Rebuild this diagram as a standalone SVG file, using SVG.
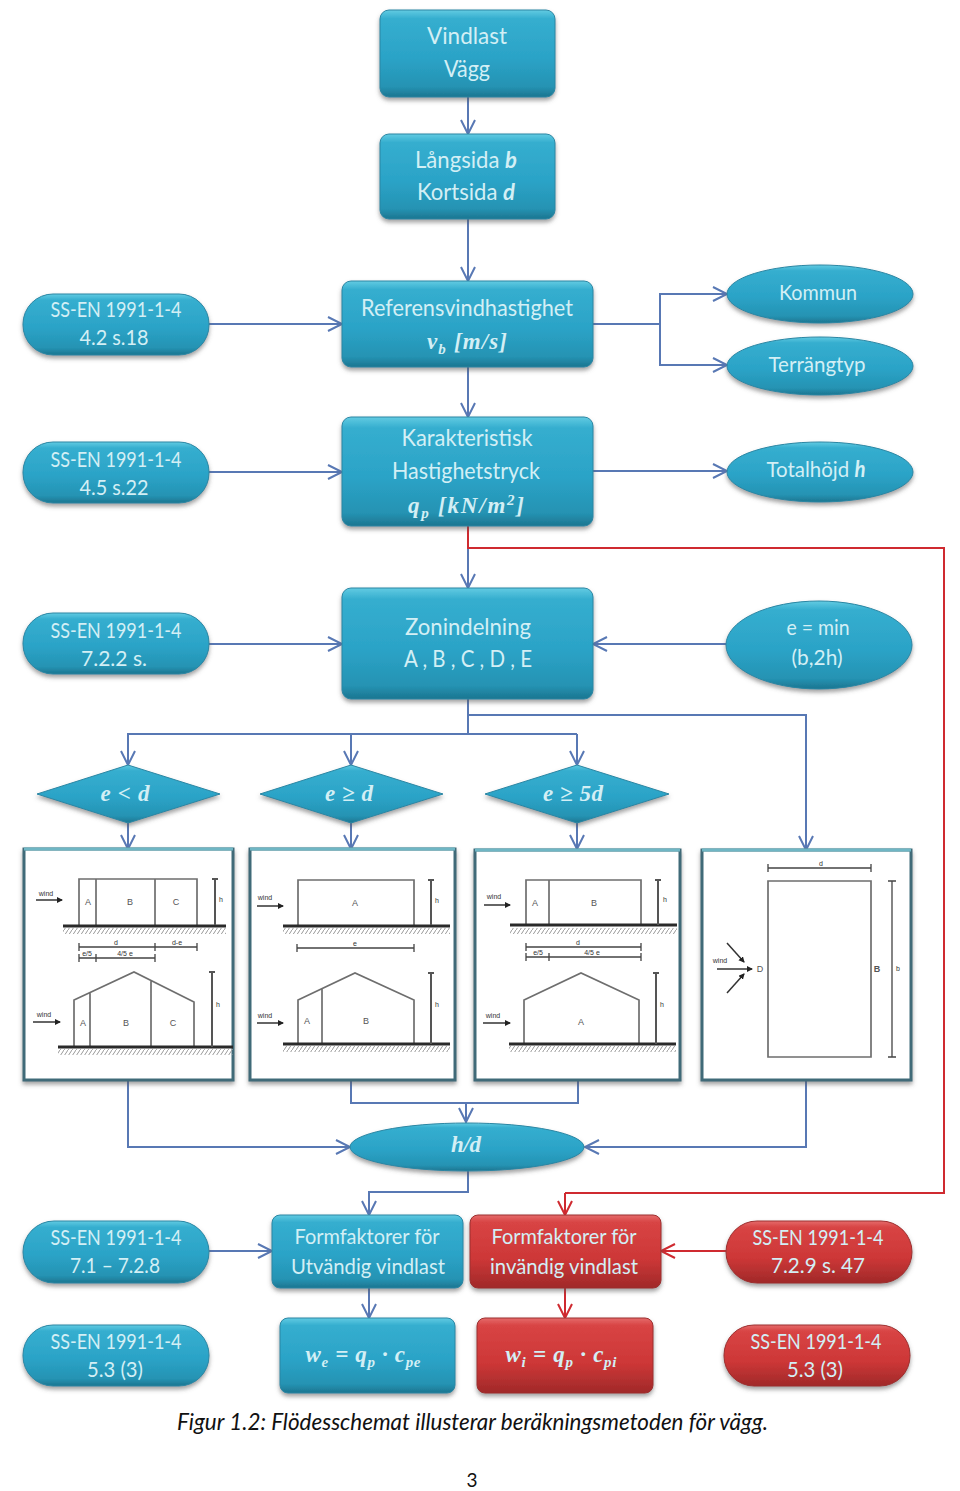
<svg xmlns="http://www.w3.org/2000/svg" width="960" height="1491" viewBox="0 0 960 1491">
<style>
.b{fill:url(#blue);stroke:#2a86a3;stroke-width:1;filter:url(#sh)}
.r{fill:url(#red);stroke:#9c2f2f;stroke-width:1;filter:url(#sh)}
.t{font-family:Lato,"Open Sans",sans-serif;font-size:23px;fill:#d3eff5;text-anchor:middle}
.s{font-size:22px}
.i{font-style:italic;font-weight:700}
.m{font-family:"Liberation Serif",serif;font-style:italic;font-weight:700;font-size:23px;fill:#d3eff5;text-anchor:middle}
.c{fill:none;stroke:#5878b4;stroke-width:2;marker-end:url(#ab)}
.n{fill:none;stroke:#5878b4;stroke-width:2}
.cr{fill:none;stroke:#cf2a30;stroke-width:2;marker-end:url(#ar)}
.nr{fill:none;stroke:#cf2a30;stroke-width:2}
.f{fill:#fff;stroke:#3f6b78;stroke-width:3;filter:url(#sh)}
.ft{fill:none;stroke:#6fb6c4;stroke-width:3}
.l{fill:none;stroke:#6e6e6e;stroke-width:1.7}
.d{fill:none;stroke:#444;stroke-width:1.3}
.g{stroke:#2a2a2a;stroke-width:3;fill:none}
.v{stroke:#555;stroke-width:2;fill:none}
.a{stroke:#333;stroke-width:1.5;fill:none;marker-end:url(#wa)}
.x{font-family:"Liberation Sans",sans-serif;font-size:9px;fill:#555;text-anchor:middle}
.w{font-family:"Liberation Sans",sans-serif;font-size:7px;fill:#333;text-anchor:middle}
.cap{font-family:Lato,"Open Sans",sans-serif;font-style:italic;font-size:24px;fill:#111}
</style>
<defs>
<linearGradient id="blue" x1="0" y1="0" x2="0" y2="1">
<stop offset="0" stop-color="#62cbe2"/><stop offset=".1" stop-color="#35aecf"/><stop offset=".55" stop-color="#2ba3c7"/><stop offset=".88" stop-color="#2593b3"/><stop offset="1" stop-color="#1c7590"/>
</linearGradient>
<linearGradient id="red" x1="0" y1="0" x2="0" y2="1">
<stop offset="0" stop-color="#e56b6b"/><stop offset=".1" stop-color="#d84444"/><stop offset=".6" stop-color="#cd3737"/><stop offset="1" stop-color="#a02929"/>
</linearGradient>
<filter id="sh" x="-10%" y="-10%" width="120%" height="125%">
<feDropShadow dx="0" dy="3" stdDeviation="2" flood-color="#555" flood-opacity=".55"/>
</filter>
<marker id="ab" markerUnits="userSpaceOnUse" markerWidth="18" markerHeight="18" refX="15" refY="8" orient="auto">
<path d="M1 1L15 8L1 15" fill="none" stroke="#5878b4" stroke-width="2"/>
</marker>
<marker id="ar" markerUnits="userSpaceOnUse" markerWidth="18" markerHeight="18" refX="15" refY="8" orient="auto">
<path d="M1 1L15 8L1 15" fill="none" stroke="#cf2a30" stroke-width="2"/>
</marker>
<marker id="wa" markerUnits="userSpaceOnUse" markerWidth="7" markerHeight="7" refX="5" refY="3" orient="auto">
<path d="M0 0L6 3L0 6z" fill="#222"/>
</marker>
<pattern id="hatch" width="4" height="6" patternUnits="userSpaceOnUse">
<path d="M4 0L0 6" stroke="#999" stroke-width="1"/>
</pattern>
</defs>

<g id="connectors">
<path class="c" d="M468 97V134"/>
<path class="c" d="M468 219V281"/>
<path class="c" d="M468 367V417"/>
<path class="c" d="M468 526V588"/>
<path class="c" d="M209 324H342"/>
<path class="c" d="M209 472H342"/>
<path class="c" d="M209 644H342"/>
<path class="n" d="M593 324H660"/>
<path class="c" d="M660 365V294H727"/>
<path class="c" d="M660 324V365H727"/>
<path class="c" d="M593 471H727"/>
<path class="c" d="M726 644H593"/>
<path class="c" d="M468 699V715H806V850"/>
<path class="n" d="M468 699V734"/>
<path class="c" d="M577 734H128V765"/>
<path class="c" d="M351 734V765"/>
<path class="c" d="M577 734V765"/>
<path class="c" d="M128 823V849"/>
<path class="c" d="M351 823V849"/>
<path class="c" d="M577 823V849"/>
<path class="c" d="M128 1080V1147H350"/>
<path class="c" d="M806 1080V1147H585"/>
<path class="n" d="M351 1080V1103H578V1080"/>
<path class="c" d="M466 1103V1122"/>
<path class="c" d="M468 1171V1192H369V1215"/>
<path class="c" d="M369 1288V1318"/>
<path class="c" d="M209 1251H272"/>
<path class="nr" d="M468 526V548H944V1193H565"/>
<path class="cr" d="M565 1193V1215"/>
<path class="cr" d="M565 1288V1318"/>
<path class="cr" d="M726 1251H661"/>
</g>

<g id="vindlast"><rect class="b" x="380" y="10" width="175" height="87" rx="9"/>
<text class="t" x="467" y="44" textLength="80" lengthAdjust="spacingAndGlyphs">Vindlast</text><text class="t" x="467" y="77" textLength="46" lengthAdjust="spacingAndGlyphs">Vägg</text></g>

<g id="langsida"><rect class="b" x="380" y="134" width="175" height="85" rx="9"/>
<text class="t" x="466" y="168" textLength="102" lengthAdjust="spacingAndGlyphs">Långsida <tspan class="i">b</tspan></text><text class="t" x="466" y="200" textLength="98" lengthAdjust="spacingAndGlyphs">Kortsida <tspan class="i">d</tspan></text></g>

<g id="referens"><rect class="b" x="342" y="281" width="251" height="86" rx="9"/>
<text class="t" x="467" y="316" textLength="212" lengthAdjust="spacingAndGlyphs">Referensvindhastighet</text>
<text class="m" x="467" y="349" textLength="80">v<tspan font-size="15" dy="5">b</tspan><tspan dy="-5"> [m/s]</tspan></text></g>

<g id="karakteristisk"><rect class="b" x="342" y="417" width="251" height="109" rx="9"/>
<text class="t" x="467" y="446" textLength="131" lengthAdjust="spacingAndGlyphs">Karakteristisk</text><text class="t" x="466" y="479" textLength="148" lengthAdjust="spacingAndGlyphs">Hastighetstryck</text>
<text class="m" x="466" y="513" textLength="116">q<tspan font-size="15" dy="5">p</tspan><tspan dy="-5"> [kN/m</tspan><tspan font-size="15" dy="-8">2</tspan><tspan dy="8">]</tspan></text></g>

<g id="zonindelning"><rect class="b" x="342" y="588" width="251" height="111" rx="9"/>
<text class="t" x="468" y="635" textLength="126" lengthAdjust="spacingAndGlyphs">Zonindelning</text><text class="t" x="468" y="667" textLength="128" lengthAdjust="spacingAndGlyphs">A , B , C , D , E</text></g>

<g id="ref-42"><rect class="b" x="23" y="294" width="186" height="61" rx="30"/>
<text class="t s" x="116" y="317" textLength="131" lengthAdjust="spacingAndGlyphs">SS-EN 1991-1-4</text><text class="t s" x="114" y="345" textLength="69" lengthAdjust="spacingAndGlyphs">4.2 s.18</text></g>
<g id="ref-45"><rect class="b" x="23" y="442" width="186" height="61" rx="30"/>
<text class="t s" x="116" y="467" textLength="131" lengthAdjust="spacingAndGlyphs">SS-EN 1991-1-4</text><text class="t s" x="114" y="495" textLength="69" lengthAdjust="spacingAndGlyphs">4.5 s.22</text></g>
<g id="ref-722"><rect class="b" x="23" y="613" width="186" height="61" rx="30"/>
<text class="t s" x="116" y="638" textLength="131" lengthAdjust="spacingAndGlyphs">SS-EN 1991-1-4</text><text class="t s" x="114" y="666" textLength="66" lengthAdjust="spacingAndGlyphs">7.2.2 s.</text></g>
<g id="ref-71"><rect class="b" x="23" y="1221" width="186" height="62" rx="31"/>
<text class="t s" x="116" y="1245" textLength="131" lengthAdjust="spacingAndGlyphs">SS-EN 1991-1-4</text><text class="t s" x="115" y="1273" textLength="90" lengthAdjust="spacingAndGlyphs">7.1 – 7.2.8</text></g>
<g id="ref-53"><rect class="b" x="23" y="1325" width="186" height="61" rx="30"/>
<text class="t s" x="116" y="1349" textLength="131" lengthAdjust="spacingAndGlyphs">SS-EN 1991-1-4</text><text class="t s" x="115" y="1377" textLength="56" lengthAdjust="spacingAndGlyphs">5.3 (3)</text></g>

<g id="kommun"><ellipse class="b" cx="820" cy="294" rx="93" ry="29"/><text class="t s" x="818" y="300" textLength="78" lengthAdjust="spacingAndGlyphs">Kommun</text></g>
<g id="terrangtyp"><ellipse class="b" cx="820" cy="366" rx="93" ry="29"/><text class="t s" x="817" y="372" textLength="97" lengthAdjust="spacingAndGlyphs">Terrängtyp</text></g>
<g id="totalhojd"><ellipse class="b" cx="820" cy="472" rx="93" ry="30"/><text class="t s" x="816" y="477" textLength="99" lengthAdjust="spacingAndGlyphs">Totalhöjd <tspan class="i">h</tspan></text></g>
<g id="emin"><ellipse class="b" cx="819" cy="645" rx="93" ry="44"/>
<text class="t s" x="818" y="635" textLength="63" lengthAdjust="spacingAndGlyphs">e = min</text><text class="t s" x="817" y="665" textLength="51" lengthAdjust="spacingAndGlyphs">(b,2h)</text></g>

<g id="cond-1"><path class="b" d="M37 794L128 765L220 794L128 823Z"/><text class="m" x="125" y="801" textLength="49">e &lt; d</text></g>
<g id="cond-2"><path class="b" d="M260 794L351 765L443 794L351 823Z"/><text class="m" x="349" y="801" textLength="48">e ≥ d</text></g>
<g id="cond-3"><path class="b" d="M485 794L577 765L669 794L577 823Z"/><text class="m" x="573" y="801" textLength="60">e ≥ 5d</text></g>

<g id="zoner-1">
<rect class="f" x="24" y="849" width="209" height="231"/><path class="ft" d="M24 849H233"/>
<path class="l" d="M79 925V879H197V925M96 879V925M155 879V925"/>
<rect x="63" y="928" width="163" height="6" fill="url(#hatch)"/><path class="g" d="M63 926H226"/>
<path class="v" d="M215 879V925M212 879H218"/>
<text class="x" x="88" y="905">A</text><text class="x" x="130" y="905">B</text><text class="x" x="176" y="905">C</text><text class="w" x="221" y="902">h</text>
<text class="w" x="46" y="896">wind</text><path class="a" d="M36 900H62"/>
<path class="d" d="M79 947H197M79 943V951M155 943V951M197 943V951M79 958H155M79 954V962M96 954V962M155 954V962"/>
<text class="w" x="116" y="945">d</text><text class="w" x="177" y="945">d-e</text><text class="w" x="87" y="956">e/5</text><text class="w" x="125" y="956">4/5 e</text>
<path class="l" d="M74 1047V1000L134 972L194 1002V1047M90 993V1047M151 981V1047"/>
<rect x="58" y="1049" width="175" height="6" fill="url(#hatch)"/><path class="g" d="M58 1047H233"/>
<path class="v" d="M212 972V1047M209 972H215"/>
<text class="x" x="83" y="1026">A</text><text class="x" x="126" y="1026">B</text><text class="x" x="173" y="1026">C</text><text class="w" x="218" y="1007">h</text>
<text class="w" x="44" y="1017">wind</text><path class="a" d="M33 1022H60"/>
</g>

<g id="zoner-2">
<rect class="f" x="250" y="849" width="205" height="231"/><path class="ft" d="M250 849H455"/>
<path class="l" d="M298 925V880H414V925"/>
<rect x="283" y="928" width="167" height="6" fill="url(#hatch)"/><path class="g" d="M283 926H450"/>
<path class="v" d="M431 880V925M428 880H434"/>
<text class="x" x="355" y="906">A</text><text class="w" x="437" y="903">h</text>
<text class="w" x="265" y="900">wind</text><path class="a" d="M257 906H283"/>
<path class="d" d="M297 948H414M297 944V952M414 944V952"/><text class="w" x="355" y="946">e</text>
<path class="l" d="M298 1044V1000L355 973L414 1000V1044M322 989V1044"/>
<rect x="283" y="1046" width="167" height="6" fill="url(#hatch)"/><path class="g" d="M283 1044H450"/>
<path class="v" d="M431 973V1044M428 973H434"/>
<text class="x" x="307" y="1024">A</text><text class="x" x="366" y="1024">B</text><text class="w" x="437" y="1007">h</text>
<text class="w" x="265" y="1018">wind</text><path class="a" d="M257 1023H283"/>
</g>

<g id="zoner-3">
<rect class="f" x="475" y="850" width="205" height="230"/><path class="ft" d="M475 850H680"/>
<path class="l" d="M526 925V880H641V925M549 880V925"/>
<rect x="510" y="928" width="167" height="6" fill="url(#hatch)"/><path class="g" d="M510 925H677"/>
<path class="v" d="M658 880V925M655 880H661"/>
<text class="x" x="535" y="906">A</text><text class="x" x="594" y="906">B</text><text class="w" x="665" y="902">h</text>
<text class="w" x="494" y="899">wind</text><path class="a" d="M484 905H510"/>
<path class="d" d="M526 947H641M526 943V951M641 943V951M526 957H641M526 953V961M549 953V961M641 953V961"/>
<text class="w" x="578" y="945">d</text><text class="w" x="538" y="955">e/5</text><text class="w" x="592" y="955">4/5 e</text>
<path class="l" d="M524 1044V1000L581 973L639 1000V1044"/>
<rect x="509" y="1046" width="167" height="6" fill="url(#hatch)"/><path class="g" d="M509 1044H676"/>
<path class="v" d="M656 973V1044M653 973H659"/>
<text class="x" x="581" y="1025">A</text><text class="w" x="662" y="1007">h</text>
<text class="w" x="493" y="1018">wind</text><path class="a" d="M483 1023H510"/>
</g>

<g id="zoner-4">
<rect class="f" x="702" y="850" width="209" height="230"/><path class="ft" d="M702 850H911"/>
<path class="l" d="M768 881H871V1057H768Z"/>
<path class="d" d="M768 868H871M768 864V872M871 864V872M892 881V1057M888 881H896M888 1057H896"/>
<text class="w" x="821" y="866">d</text><text class="w" x="898" y="971">b</text>
<text class="x" x="877" y="972" font-weight="bold">B</text><text class="x" x="760" y="972">D</text>
<text class="w" x="720" y="963">wind</text><path class="a" d="M717 969H752"/>
<path class="a" d="M727 943L744 962"/><path class="a" d="M727 993L744 974"/>
</g>

<g id="hd"><ellipse class="b" cx="467" cy="1147" rx="117" ry="24"/><text class="m" x="466" y="1152" textLength="30">h/d</text></g>

<g id="form-ut"><rect class="b" x="272" y="1215" width="191" height="73" rx="8"/>
<text class="t s" x="367" y="1244" textLength="145" lengthAdjust="spacingAndGlyphs">Formfaktorer för</text><text class="t s" x="368" y="1274" textLength="154" lengthAdjust="spacingAndGlyphs">Utvändig vindlast</text></g>
<g id="form-in"><rect class="r" x="470" y="1215" width="191" height="73" rx="8"/>
<text class="t s" x="564" y="1244" textLength="145" lengthAdjust="spacingAndGlyphs">Formfaktorer för</text><text class="t s" x="564" y="1274" textLength="148" lengthAdjust="spacingAndGlyphs">invändig vindlast</text></g>
<g id="we"><rect class="b" x="280" y="1318" width="175" height="75" rx="8"/>
<text class="m" x="363" y="1362" textLength="115">w<tspan font-size="15" dy="5">e</tspan><tspan dy="-5"> = q</tspan><tspan font-size="15" dy="5">p</tspan><tspan dy="-5"> · c</tspan><tspan font-size="15" dy="5">pe</tspan></text></g>
<g id="wi"><rect class="r" x="477" y="1318" width="176" height="75" rx="8"/>
<text class="m" x="561" y="1362" textLength="111">w<tspan font-size="15" dy="5">i</tspan><tspan dy="-5"> = q</tspan><tspan font-size="15" dy="5">p</tspan><tspan dy="-5"> · c</tspan><tspan font-size="15" dy="5">pi</tspan></text></g>
<g id="ref-729"><rect class="r" x="726" y="1221" width="186" height="62" rx="31"/>
<text class="t s" x="818" y="1245" textLength="131" lengthAdjust="spacingAndGlyphs">SS-EN 1991-1-4</text><text class="t s" x="818" y="1273" textLength="94" lengthAdjust="spacingAndGlyphs">7.2.9 s. 47</text></g>
<g id="ref-53-r"><rect class="r" x="724" y="1325" width="186" height="61" rx="30"/>
<text class="t s" x="816" y="1349" textLength="131" lengthAdjust="spacingAndGlyphs">SS-EN 1991-1-4</text><text class="t s" x="815" y="1377" textLength="56" lengthAdjust="spacingAndGlyphs">5.3 (3)</text></g>

<text class="cap" x="177" y="1430" textLength="591" lengthAdjust="spacingAndGlyphs">Figur 1.2: Flödesschemat illusterar beräkningsmetoden för vägg.</text>
<text x="472" y="1487" font-family="Lato,'Open Sans',sans-serif" font-size="19" fill="#111" text-anchor="middle">3</text>
</svg>
